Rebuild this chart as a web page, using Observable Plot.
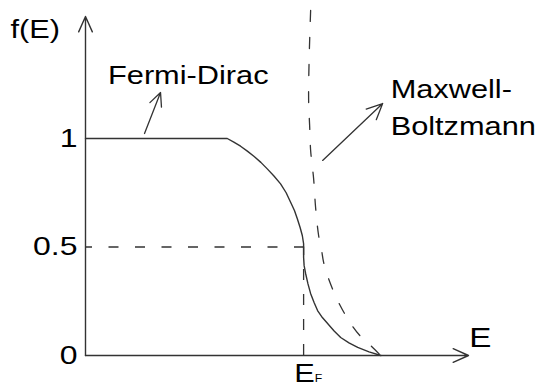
<!DOCTYPE html>
<html><head><meta charset="utf-8">
<script src="https://cdn.jsdelivr.net/npm/d3@7"></script>
<script src="https://cdn.jsdelivr.net/npm/@observablehq/plot@0.6"></script>
<style>
html,body{margin:0;padding:0;background:#fff;}
#chart svg{display:block;}
</style></head><body><div id="chart"></div>
<script>
// Fermi-Dirac curve (energy E, occupation f)
const fdE = [0, 3.25, 3.40, 3.555, 3.71, 3.86, 4.02, 4.167, 4.32, 4.472, 4.60, 4.702, 4.79, 4.856, 4.92, 4.97, 5.0, 5.0, 5.012, 5.046, 5.10, 5.16, 5.24, 5.32, 5.43, 5.55, 5.70, 5.85, 6.04, 6.24, 6.50, 6.77];
const fdF = [1, 1, 0.983, 0.9645, 0.942, 0.918, 0.890, 0.860, 0.827, 0.791, 0.750, 0.7065, 0.668, 0.630, 0.590, 0.553, 0.515, 0.452, 0.414, 0.378, 0.330, 0.286, 0.244, 0.207, 0.175, 0.1475, 0.113, 0.083, 0.058, 0.037, 0.017, 0];
// Maxwell-Boltzmann curve
const mbE = [5.161, 5.126, 5.115, 5.138, 5.161, 5.229, 5.275, 5.344, 5.413, 5.459, 5.596, 5.826, 6.124, 6.353, 6.537, 6.766];
const mbF = [1.590, 1.359, 1.175, 1.060, 0.945, 0.816, 0.682, 0.553, 0.484, 0.429, 0.341, 0.235, 0.134, 0.078, 0.046, 0];
// Fermi level and half occupation
const eF = 5;
const halfLevel = 0.5;
// Axis extents (arrow tips)
const xAxisEnd = 8.78;
const yAxisEnd = 1.562;
// y tick values / labels
const yTicks = [0, 0.5, 1];
const yTickLabels = ["0", "0.5", "1"];
// Annotation arrows (tail -> tip)
const noteX1 = [1.353, 5.436];
const noteY1 = [1.023, 0.899];
const noteX2 = [1.720, 6.812];
const noteY2 = [1.212, 1.161];
// Text labels
const labels = ["f(E)", "Fermi-Dirac", "Maxwell-\nBoltzmann", "E", "E", "F"];
const labelE = [-1.72, 0.516, 6.995, 8.796, 4.784, 5.257];
const labelF = [1.465, 1.253, 1.014, 0.041, -0.120, -0.120];
const labelSize = [25, 25, 25, 27, 25, 10];

const fd = fdE.map((e, i) => ({e, f: fdF[i]}));
const mb = mbE.map((e, i) => ({e, f: mbF[i]}));
const notes = noteX1.map((x1, i) => ({x1, y1: noteY1[i], x2: noteX2[i], y2: noteY2[i]}));
const axes = [{x1: 0, y1: 0, x2: xAxisEnd, y2: 0}, {x1: 0, y1: 0, x2: 0, y2: yAxisEnd}];
const texts = labels.map((t, i) => ({t, e: labelE[i], f: labelF[i], s: labelSize[i]}));

const ink = "#333";
const chart = Plot.plot({
  width: 539, height: 387,
  marginLeft: 85, marginRight: 71, marginTop: 10, marginBottom: 32,
  x: {domain: [0, xAxisEnd], axis: null},
  y: {domain: [0, 1], range: [355, 138], axis: null},
  style: {fontFamily: "'Liberation Sans', Arial, sans-serif", background: "white", color: "#000"},
  marks: [
    Plot.ruleY([halfLevel], {x1: 0, x2: eF, stroke: ink, strokeWidth: 1.3, strokeDasharray: "10,16.5", strokeDashoffset: 3}),
    Plot.ruleX([eF], {y1: 0, y2: halfLevel, stroke: ink, strokeWidth: 1.3, strokeDasharray: "11,14"}),
    Plot.line(fd, {x: "e", y: "f", curve: "linear", stroke: ink, strokeWidth: 1.4}),
    Plot.line(mb, {x: "e", y: "f", curve: "catmull-rom", stroke: ink, strokeWidth: 1.3, strokeDasharray: "11,16"}),
    Plot.arrow(axes, {x1: "x1", y1: "y1", x2: "x2", y2: "y2", stroke: ink, strokeWidth: 1.4, headAngle: 48, headLength: 18}),
    Plot.arrow(notes, {x1: "x1", y1: "y1", x2: "x2", y2: "y2", stroke: ink, strokeWidth: 1.3, headAngle: 50, headLength: 20}),
    Plot.axisY(yTicks, {tickSize: 0, tickPadding: 8, fontSize: 26, label: null, tickFormat: (d) => yTickLabels[yTicks.indexOf(d)], fill: "#000"}),
    Plot.text(texts, {x: "e", y: "f", text: "t", fontSize: "s", textAnchor: "start", lineAnchor: "bottom", lineHeight: 1.48, fill: "#000"})
  ]
});
d3.select(chart).selectAll("text").each(function () {
  const t = this.getAttribute("transform");
  if (t) this.setAttribute("transform", t + " scale(1.23,1)");
});
document.getElementById("chart").appendChild(chart);
</script></body></html>
